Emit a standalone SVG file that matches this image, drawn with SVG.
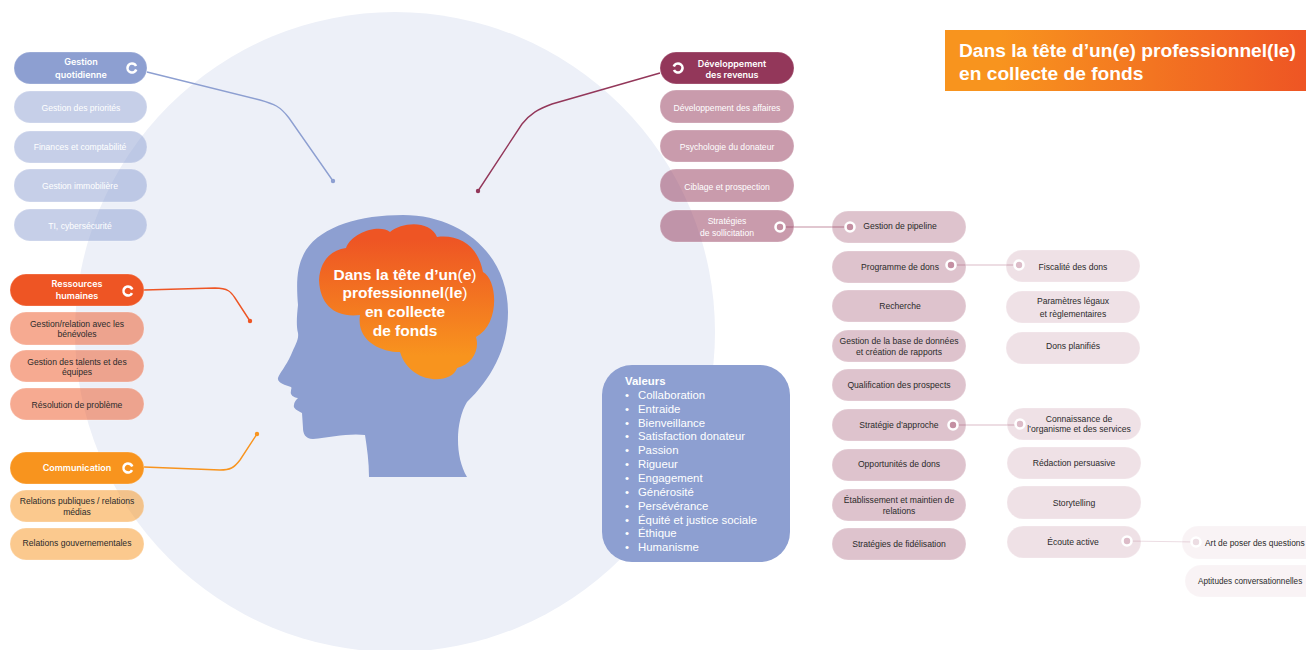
<svg xmlns="http://www.w3.org/2000/svg" width="1306" height="650" viewBox="0 0 1306 650">
<style>
text{font-family:"Liberation Sans",Arial,sans-serif;font-size:8.6px;text-anchor:middle;fill:#2b2b2b}
.h{font-family:Inter,"Liberation Sans",sans-serif;font-weight:600;fill:#fff;font-size:9px}
.w{fill:#fff}
.p{stroke:#fff;stroke-opacity:.25;stroke-width:1}
.b{fill:#8d9fd1}.bl{fill:#8d9fd1;fill-opacity:.5}
.d{fill:#93375a}.dl{fill:#93375a;fill-opacity:.5}
.r{fill:#ee5524}.rl{fill:#ee5524;fill-opacity:.5}
.o{fill:#f8941e}.ol{fill:#f8941e;fill-opacity:.5}
.c2{fill:#93375a;fill-opacity:.3}.c3{fill:#93375a;fill-opacity:.15}.c4{fill:#93375a;fill-opacity:.06}
.ln{fill:none;stroke-width:1.4}
.thin{fill:none;stroke-width:1.2}
.ic{fill:none;stroke:#fff;stroke-width:2.6}
.rg{stroke:#fff;stroke-width:2.6}
.rg1{fill:#c48fa2}.rg2{fill:#dcbcc8}.rg3{fill:#ecdde3}
.v{font-size:11.4px;text-anchor:start;fill:#fff}
.t{font-size:19.2px;font-weight:700;text-anchor:start;fill:#fff}
.bt{font-size:15.5px;font-weight:700;fill:#fff}
.n{font-weight:400}
</style>
<defs>
<linearGradient id="brain" x1="0" y1="0" x2="0" y2="1"><stop offset=".1" stop-color="#ee5524"/><stop offset=".85" stop-color="#f8941e"/></linearGradient>
<linearGradient id="bar" x1="0" y1="0" x2="1" y2="0"><stop offset=".15" stop-color="#f8941e"/><stop offset="1" stop-color="#ee5524"/></linearGradient>
</defs>
<circle cx="395" cy="332" r="320" fill="#edf0f8"/>

<g id="title"><rect x="945" y="30" width="361" height="61" fill="url(#bar)"/>
<text class="t" x="959" y="57">Dans la tête d’un(e) professionnel(le)</text>
<text class="t" x="959" y="80">en collecte de fonds</text></g>

<g id="head">
<path fill="#8d9fd1" d="M403 215C462 215 508 255 508 312C508 350 490 380 467 402C456 420 454 455 467 477L369 477C369 462 367 448 365 435C350 433 330 437 313 439C305 439 303 433 303 428L302 413C296 410 293 408 294 405C294 402 296 400 298 398C292 397 290 394 291 391C291 389 292 388 291 387C285 385 277 383 278 378C279 374 286 366 291 355C295 345 299 340 298 333C296 325 297 315 298 305C296 280 297 265 306 250C322 226 360 215 403 215Z"/>
<path fill="url(#brain)" d="M346 248C352 232 380 224 390 232C402 222 430 220 437 237C458 234 478 245 483 272C498 280 500 325 476 337C480 350 472 365 457 368C452 385 410 385 400 352C380 352 356 340 360 315C335 318 320 305 319 280C320 262 330 250 346 248Z"/>
<text class="bt" x="405" y="280">Dans la tête d’un<tspan class="n">(</tspan>e<tspan class="n">)</tspan></text>
<text class="bt" x="405" y="298">professionnel<tspan class="n">(</tspan>le<tspan class="n">)</tspan></text>
<text class="bt" x="405" y="317">en collecte</text>
<text class="bt" x="405" y="336">de fonds</text>
</g>

<g id="connectors">
<path class="ln" stroke="#8d9fd1" d="M147 72L260 100C274 104 280 106 289 118L333 181"/><circle cx="333" cy="181" r="2.2" fill="#8d9fd1"/>
<path class="ln" stroke="#93375a" d="M660 73L552 104C538 109 530 114 522 124L478 191"/><circle cx="478" cy="191" r="2.2" fill="#93375a"/>
<path class="ln" stroke="#ee5524" d="M144 290L215 288C228 288 231 292 235 298L250 321"/><circle cx="250" cy="321" r="2.2" fill="#ee5524"/>
<path class="ln" stroke="#f8941e" d="M144 467L220 470C230 470 234 468 240 460L257 434"/><circle cx="257" cy="434" r="2.2" fill="#f8941e"/>
<path class="thin" stroke="#c48fa2" d="M780 227H850"/>
<path class="thin" stroke="#dcbcc8" d="M951 265H1020"/>
<path class="thin" stroke="#dcbcc8" d="M953 425H1020"/>
<path class="thin" stroke="#ecdde3" d="M1127 541L1196 542"/>
</g>

<g id="gestion-quotidienne"><rect class="p b" x="14" y="52" width="133" height="32" rx="16"/><text class="h" x="81" y="65">Gestion</text><text class="h" x="81" y="78">quotidienne</text><circle class="ic" cx="132" cy="68" r="4.5" stroke-dasharray="24 4.3" transform="rotate(20 132 68)"/></g>
<g id="gestion-priorites"><rect class="p bl" x="14" y="91" width="133" height="32" rx="16"/><text class="w" x="81" y="111">Gestion des priorités</text></g>
<g id="finances"><rect class="p bl" x="14" y="131" width="133" height="32" rx="16"/><text class="w" x="80" y="150">Finances et comptabilité</text></g>
<g id="immobiliere"><rect class="p bl" x="14" y="169" width="133" height="33" rx="16"/><text class="w" x="80" y="189">Gestion immobilière</text></g>
<g id="ti"><rect class="p bl" x="14" y="209" width="133" height="32" rx="16"/><text class="w" x="80" y="229">TI, cybersécurité</text></g>

<g id="ressources-humaines"><rect class="p r" x="10" y="274" width="134" height="32" rx="16"/><text class="h" x="77" y="287">Ressources</text><text class="h" x="77" y="299">humaines</text><circle class="ic" cx="128" cy="291" r="4.5" stroke-dasharray="24 4.3" transform="rotate(27 128 291)"/></g>
<g id="benevoles"><rect class="p rl" x="10" y="312" width="134" height="33" rx="16"/><text x="77" y="327">Gestion/relation avec les</text><text x="77" y="337">bénévoles</text></g>
<g id="talents"><rect class="p rl" x="10" y="350" width="134" height="32" rx="16"/><text x="77" y="365">Gestion des talents et des</text><text x="77" y="375">équipes</text></g>
<g id="probleme"><rect class="p rl" x="10" y="388" width="134" height="32" rx="16"/><text x="77" y="408">Résolution de problème</text></g>

<g id="communication"><rect class="p o" x="10" y="452" width="134" height="32" rx="16"/><text class="h" x="77" y="471">Communication</text><circle class="ic" cx="128" cy="468" r="4.5" stroke-dasharray="24 4.3" transform="rotate(27 128 468)"/></g>
<g id="relations-publiques"><rect class="p ol" x="10" y="490" width="134" height="32" rx="16"/><text x="77" y="504">Relations publiques / relations</text><text x="77" y="515">médias</text></g>
<g id="relations-gouv"><rect class="p ol" x="10" y="528" width="134" height="32" rx="16"/><text x="77" y="546">Relations gouvernementales</text></g>

<g id="developpement-revenus"><rect class="p d" x="660" y="52" width="134" height="32" rx="16"/><text class="h" x="732" y="67">Développement</text><text class="h" x="732" y="78">des revenus</text><circle class="ic" cx="678" cy="68" r="4.5" stroke-dasharray="24 4.3" transform="rotate(200 678 68)"/></g>
<g id="affaires"><rect class="p dl" x="660" y="90" width="134" height="33" rx="16"/><text class="w" x="727" y="111">Développement des affaires</text></g>
<g id="psychologie"><rect class="p dl" x="660" y="130" width="134" height="32" rx="16"/><text class="w" x="727" y="150">Psychologie du donateur</text></g>
<g id="ciblage"><rect class="p dl" x="660" y="169" width="134" height="33" rx="16"/><text class="w" x="727" y="190">Ciblage et prospection</text></g>
<g id="sollicitation"><rect class="p dl" x="660" y="210" width="134" height="32" rx="16"/><text class="w" x="727" y="224">Stratégies</text><text class="w" x="727" y="236">de sollicitation</text><circle class="rg rg1" cx="780" cy="227" r="4.5"/></g>

<g id="pipeline"><rect class="p c2" x="832" y="211" width="134" height="32" rx="16"/><text x="900" y="229">Gestion de pipeline</text><circle class="rg rg1" cx="850" cy="227" r="4.5"/></g>
<g id="programme"><rect class="p c2" x="832" y="251" width="134" height="32" rx="16"/><text x="900" y="270">Programme de dons</text><circle class="rg rg1" cx="951" cy="265" r="4.5"/></g>
<g id="recherche"><rect class="p c2" x="832" y="290" width="134" height="32" rx="16"/><text x="900" y="309">Recherche</text></g>
<g id="base-donnees"><rect class="p c2" x="832" y="330" width="134" height="32" rx="16"/><text x="899" y="344">Gestion de la base de données</text><text x="899" y="355">et création de rapports</text></g>
<g id="qualification"><rect class="p c2" x="832" y="369" width="134" height="32" rx="16"/><text x="899" y="388">Qualification des prospects</text></g>
<g id="approche"><rect class="p c2" x="832" y="409" width="134" height="32" rx="16"/><text x="899" y="428">Stratégie d’approche</text><circle class="rg rg1" cx="953" cy="425" r="4.5"/></g>
<g id="opportunites"><rect class="p c2" x="832" y="449" width="134" height="32" rx="16"/><text x="899" y="467">Opportunités de dons</text></g>
<g id="maintien"><rect class="p c2" x="832" y="489" width="134" height="32" rx="16"/><text x="899" y="503">Établissement et maintien de</text><text x="899" y="514">relations</text></g>
<g id="fidelisation"><rect class="p c2" x="832" y="528" width="134" height="32" rx="16"/><text x="899" y="547">Stratégies de fidélisation</text></g>

<g id="fiscalite"><rect class="p c3" x="1006" y="250" width="134" height="32" rx="16"/><text x="1073" y="270">Fiscalité des dons</text><circle class="rg rg2" cx="1019" cy="265" r="4.5"/></g>
<g id="legaux"><rect class="p c3" x="1006" y="291" width="134" height="32" rx="16"/><text x="1073" y="304">Paramètres légaux</text><text x="1073" y="317">et règlementaires</text></g>
<g id="planifies"><rect class="p c3" x="1006" y="332" width="134" height="32" rx="16"/><text x="1073" y="349">Dons planifiés</text></g>
<g id="connaissance"><rect class="p c3" x="1007" y="408" width="134" height="32" rx="16"/><text x="1079" y="422">Connaissance de</text><text x="1079" y="432">l’organisme et des services</text><circle class="rg rg2" cx="1020" cy="424" r="4.5"/></g>
<g id="redaction"><rect class="p c3" x="1007" y="447" width="134" height="32" rx="16"/><text x="1074" y="466">Rédaction persuasive</text></g>
<g id="storytelling"><rect class="p c3" x="1007" y="486" width="134" height="33" rx="16"/><text x="1074" y="506">Storytelling</text></g>
<g id="ecoute"><rect class="p c3" x="1007" y="526" width="134" height="32" rx="16"/><text x="1073" y="545">Écoute active</text><circle class="rg rg2" cx="1127" cy="541" r="4.5"/></g>

<g id="questions"><rect class="p c4" x="1182" y="526" width="140" height="33" rx="16"/><text x="1205" y="546" style="text-anchor:start;font-size:8.4px">Art de poser des questions</text><circle class="rg rg3" cx="1196" cy="542" r="4.5"/></g>
<g id="aptitudes"><rect class="p c4" x="1185" y="565" width="140" height="32" rx="16"/><text x="1198" y="584" style="text-anchor:start;font-size:8.2px">Aptitudes conversationnelles</text></g>

<g id="valeurs"><rect x="602" y="365" width="188" height="197" rx="30" fill="#8d9fd1"/>
<text class="v" x="625" y="385" style="font-weight:700">Valeurs</text>
<text class="v" x="625" y="399">•</text><text class="v" x="638" y="399">Collaboration</text>
<text class="v" x="625" y="413">•</text><text class="v" x="638" y="413">Entraide</text>
<text class="v" x="625" y="427">•</text><text class="v" x="638" y="427">Bienveillance</text>
<text class="v" x="625" y="440">•</text><text class="v" x="638" y="440">Satisfaction donateur</text>
<text class="v" x="625" y="454">•</text><text class="v" x="638" y="454">Passion</text>
<text class="v" x="625" y="468">•</text><text class="v" x="638" y="468">Rigueur</text>
<text class="v" x="625" y="482">•</text><text class="v" x="638" y="482">Engagement</text>
<text class="v" x="625" y="496">•</text><text class="v" x="638" y="496">Générosité</text>
<text class="v" x="625" y="510">•</text><text class="v" x="638" y="510">Persévérance</text>
<text class="v" x="625" y="524">•</text><text class="v" x="638" y="524">Équité et justice sociale</text>
<text class="v" x="625" y="537">•</text><text class="v" x="638" y="537">Éthique</text>
<text class="v" x="625" y="551">•</text><text class="v" x="638" y="551">Humanisme</text>
</g>
</svg>
